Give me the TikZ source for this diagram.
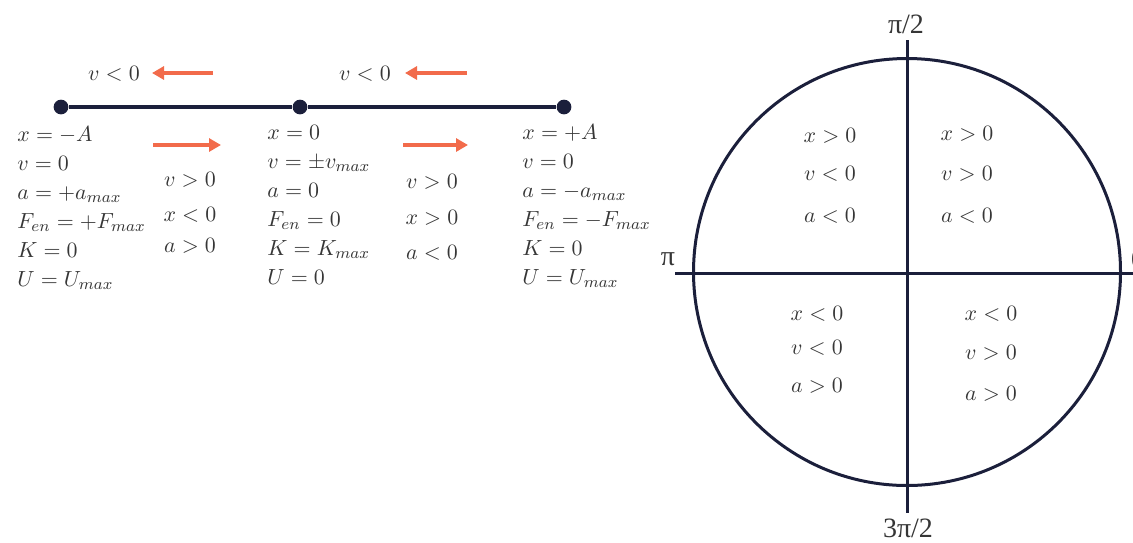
\documentclass[tikz,border=0pt]{standalone}
\usepackage{fontspec}
\usepackage{amsmath}
\usetikzlibrary{arrows.meta}
\newfontfamily\anglefont{Liberation Serif}
\definecolor{OscNavy}{HTML}{1B1F3B}
\definecolor{OscOrange}{HTML}{F26B4B}
\definecolor{OscText}{HTML}{363636}

\begin{document}
\begin{tikzpicture}[x=0.5pt, y=-0.5pt,
  state/.style={font=\fontsize{11}{13}\selectfont, text=OscText, inner sep=0pt, anchor=base west},
  sign/.style={font=\fontsize{11}{13}\selectfont, text=OscText, inner sep=0pt, anchor=base},
  dot/.style={circle, fill=OscNavy, inner sep=2.6pt},
  motion/.style={-{Triangle[length=6pt,width=6.5pt]}, OscOrange, line width=1.6pt},
  angle/.style={font=\anglefont\fontsize{14}{16}\selectfont, text=OscText, inner sep=0pt}]
\useasboundingbox (0,0) rectangle (1133,542);

% Track with the three positions
\node[dot] (xneg) at (61,107) {};
\node[dot] (xzero) at (300,107) {};
\node[dot] (xpos) at (564,107) {};
\draw[OscNavy, line width=2pt] (xneg) -- (xzero) -- (xpos);

% Velocity arrows
\node[sign] (vback1) at (114,80) {$v<0$};
\node[sign] (vback2) at (365,80) {$v<0$};
\coordinate (ba1) at (213,73); \coordinate (bb1) at (152,73);
\coordinate (ba2) at (467,73); \coordinate (bb2) at (405,73);
\draw[motion] (ba1) -- (bb1);
\draw[motion] (ba2) -- (bb2);
\coordinate (fa1) at (153,145); \coordinate (fb1) at (221,145);
\coordinate (fa2) at (403,145); \coordinate (fb2) at (468,145);
\draw[motion] (fa1) -- (fb1);
\draw[motion] (fa2) -- (fb2);

% State at each position
\foreach \t [count=\i] in {{$x=-A$},{$v=0$},{$a=+a_{max}$},{$F_{en}=+F_{max}$},{$K=0$},{$U=U_{max}$}}
  \node[state] (sl\i) at (17,112+29*\i) {\t};
\foreach \t [count=\i] in {{$x=0$},{$v=\pm v_{max}$},{$a=0$},{$F_{en}=0$},{$K=K_{max}$},{$U=0$}}
  \node[state] (sm\i) at (267,110+29*\i) {\t};
\foreach \t [count=\i] in {{$x=+A$},{$v=0$},{$a=-a_{max}$},{$F_{en}=-F_{max}$},{$K=0$},{$U=U_{max}$}}
  \node[state] (sr\i) at (522,110+29*\i) {\t};

% Signs between positions
\foreach \t/\y [count=\i] in {{$v>0$}/186,{$x<0$}/221,{$a>0$}/252}
  \node[sign] (gl\i) at (190,\y) {\t};
\foreach \t/\y [count=\i] in {{$v>0$}/188,{$x>0$}/224,{$a<0$}/259}
  \node[sign] (gr\i) at (432,\y) {\t};

% Phase circle
\coordinate (o) at (907,272);
\draw[OscNavy, line width=1.5pt] (o) circle[radius=213.5];
\coordinate (ytop) at (907,40); \coordinate (ybot) at (907,513);
\coordinate (xleft) at (675,273); \coordinate (xright) at (1140,273);
\draw[OscNavy, line width=1.5pt] (ytop) -- (ybot);
\draw[OscNavy, line width=1.5pt] (xleft) -- (xright);
\node[angle] (pihalf) at (906,24) {π/2};
\node[angle] (threepihalf) at (908,528) {3π/2};
\node[angle] (pi) at (668,259) {π};
\node[angle] (zero) at (1138,259) {0};

% Signs in each quadrant
\foreach \t/\y [count=\i] in {{$x>0$}/142,{$v<0$}/180,{$a<0$}/222}
  \node[sign] (q2\i) at (830,\y) {\t};
\foreach \t/\y [count=\i] in {{$x>0$}/140,{$v>0$}/180,{$a<0$}/222}
  \node[sign] (q1\i) at (967,\y) {\t};
\foreach \t/\y [count=\i] in {{$x<0$}/320,{$v<0$}/354,{$a>0$}/392}
  \node[sign] (q3\i) at (817,\y) {\t};
\foreach \t/\y [count=\i] in {{$x<0$}/320,{$v>0$}/359,{$a>0$}/400}
  \node[sign] (q4\i) at (991,\y) {\t};

\end{tikzpicture}
\end{document}
